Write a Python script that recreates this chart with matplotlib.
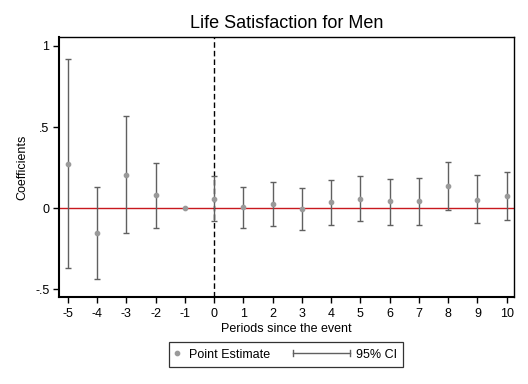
import numpy as np
import matplotlib
matplotlib.use("Agg")
import matplotlib.pyplot as plt
from matplotlib.lines import Line2D
from matplotlib.legend_handler import HandlerBase

# ---- data ----
periods = [-5, -4, -3, -2, -1, 0, 1, 2, 3, 4, 5, 6, 7, 8, 9, 10]
estimates = [0.273, -0.152, 0.205, 0.078, 0.0, 0.058, 0.004, 0.025,
             -0.008, 0.035, 0.059, 0.041, 0.041, 0.136, 0.053, 0.076]
ci_lower = [-0.370, -0.437, -0.152, -0.123, np.nan, -0.081, -0.123, -0.111,
            -0.136, -0.105, -0.078, -0.105, -0.105, -0.010, -0.092, -0.072]
ci_upper = [0.918, 0.129, 0.565, 0.277, np.nan, 0.199, 0.129, 0.160,
            0.123, 0.172, 0.197, 0.179, 0.185, 0.283, 0.203, 0.222]
ytick_vals = [-0.5, 0, 0.5, 1]
ytick_labels = ["-.5", "0", ".5", "1"]
xtick_vals = list(range(-5, 11))

plt.rcParams["font.family"] = ["Liberation Sans", "DejaVu Sans"]

BAR_C = "#606060"
PT_C = "#9a9a9a"
RED = "#c8191e"

fig = plt.figure(figsize=(5.28, 3.84), dpi=100)
W, H = 528, 384
L, R, T, B = 59, 514, 37, 297
ax = fig.add_axes([L / W, 1 - B / H, (R - L) / W, (B - T) / H])

x = np.array(periods, dtype=float)
est = np.array(estimates)
lo = np.array(ci_lower)
hi = np.array(ci_upper)
m = ~np.isnan(lo)

ax.axhline(0, color=RED, lw=1.0, zorder=1)
ax.axvline(0, color="black", lw=1.0, dashes=(4.0, 2.2), zorder=1)
ax.errorbar(x[m], est[m], yerr=[est[m] - lo[m], hi[m] - est[m]], fmt="none",
            ecolor=BAR_C, elinewidth=1.0, capsize=2.3, capthick=1.0, zorder=2)
ax.plot(x, est, "o", color=PT_C, ms=3.1, mec=PT_C, zorder=3)

ax.set_xlim(-5.30, 10.25)
ax.set_ylim(-0.548, 1.055)
ax.set_xticks(xtick_vals)
ax.set_xticklabels([str(v) for v in xtick_vals])
ax.set_yticks(ytick_vals)
ax.set_yticklabels(ytick_labels)
ax.tick_params(axis="both", direction="out", length=4, width=1.0,
               labelsize=9, colors="black")
ax.tick_params(axis="x", pad=4)
ax.tick_params(axis="y", pad=3)

for s in ["left", "bottom"]:
    ax.spines[s].set_linewidth(1.5)
for s in ["top", "right"]:
    ax.spines[s].set_linewidth(1.0)

ax.set_title("Life Satisfaction for Men", fontsize=13, pad=6.5)
ax.set_xlabel("Periods since the event", fontsize=9, labelpad=2)
ax.set_ylabel("Coefficients", fontsize=9, labelpad=5)


class CIHandler(HandlerBase):
    def create_artists(self, legend, orig_handle, xdescent, ydescent,
                       width, height, fontsize, trans):
        y = height / 2 - ydescent
        x1 = width - xdescent + 2.8
        x0 = x1 - 41.0
        h = 2.3
        arts = [Line2D([x0, x1], [y, y]),
                Line2D([x0, x0], [y - h, y + h]),
                Line2D([x1, x1], [y - h, y + h])]
        for a in arts:
            a.set_color(BAR_C)
            a.set_linewidth(1.0)
            a.set_transform(trans)
        return arts


pt_handle = Line2D([], [], marker="o", ls="none", color=PT_C, ms=3.1)
ci_handle = Line2D([], [], color=BAR_C)
leg = fig.legend([pt_handle, ci_handle], ["Point Estimate", "95% CI"],
                 loc="upper left", bbox_to_anchor=(169.3 / W, 1 - 342.3 / H),
                 bbox_transform=fig.transFigure, borderaxespad=0,
                 ncol=2, fontsize=9, handlelength=0.25, handletextpad=0.8,
                 columnspacing=5.84, borderpad=0.5, frameon=True,
                 fancybox=False, handler_map={ci_handle: CIHandler()})
leg.get_frame().set_edgecolor("black")
leg.get_frame().set_linewidth(0.9)

fig.savefig("out.png", dpi=100)
